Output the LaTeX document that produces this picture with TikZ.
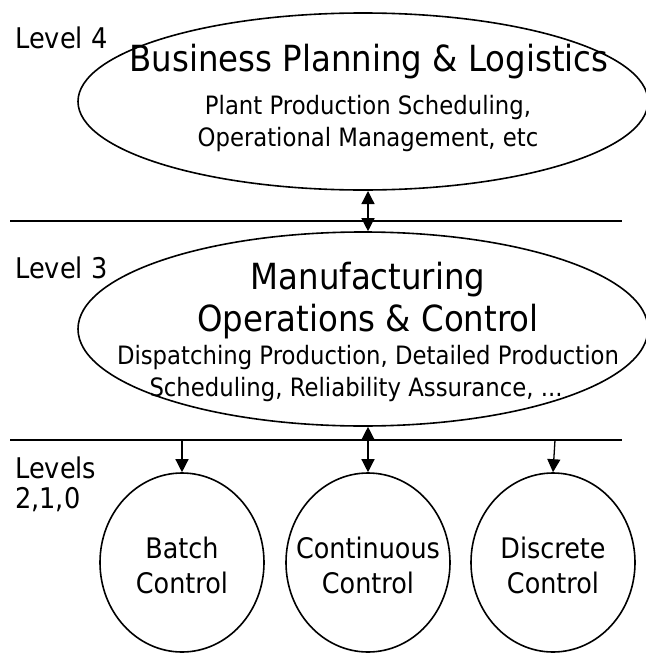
\documentclass[tikz,border=0pt]{standalone}
\usepackage{fontspec}
\setmainfont{DejaVu Sans}[FakeStretch=0.9]
\usetikzlibrary{positioning, arrows.meta, shapes.geometric}

\begin{document}
\begin{tikzpicture}[
    x=1pt, y=-1pt,
    every node/.style={inner sep=0pt},
    level/.style={anchor=west, font=\fontsize{28.5}{34}\selectfont},
    big/.style={font=\fontsize{36}{43}\selectfont},
    small/.style={font=\fontsize{25.3}{30}\selectfont},
    mid/.style={font=\fontsize{28.3}{35}\selectfont},
    oval/.style={draw, ellipse, line width=1.6pt, minimum width=570pt},
    ctrl/.style={draw, ellipse, line width=1.6pt, minimum width=164pt, minimum height=179pt},
    arrow/.style={-{Triangle[length=13pt, width=13pt]}, line width=1.3pt},
    both/.style={{Triangle[length=13pt, width=13pt]}-{Triangle[length=13pt, width=13pt]}, line width=1.3pt},
    bus/.style={line width=1.3pt}
]
\useasboundingbox (0,0) rectangle (645,653);

% Level 4
\node[oval, minimum height=177pt] (bpl) at (363,101.5) {};
\node[big]   (bpltitle) at (369,62)  {Business Planning \& Logistics};
\node[small] (bplsub1)  at (368,108) {Plant Production Scheduling,};
\node[small] (bplsub2)  at (368,140) {Operational Management, etc};

% Level 3
\node[oval, minimum height=194pt] (moc) at (363,329) {};
\node[big]   (moctitle1) at (368,280) {Manufacturing};
\node[big]   (moctitle2) at (368,322) {Operations \& Control};
\node[small] (mocsub1)   at (368,358) {Dispatching Production, Detailed Production};
\node[small] (mocsub2)   at (356,390) {Scheduling, Reliability Assurance, ...};

% Levels 2,1,0
\node[ctrl] (batch) at (182,562.5) {};
\node[ctrl] (cont)  at (368,562.5) {};
\node[ctrl] (disc)  at (553,562.5) {};
\node[mid, align=center] (batchtxt) at (182,565) {Batch\\Control};
\node[mid, align=center] (conttxt)  at (368,565) {Continuous\\Control};
\node[mid, align=center] (disctxt)  at (553,565) {Discrete\\Control};

% Level labels
\node[level] (lv4)  at (15,38)  {Level 4};
\node[level] (lv3)  at (15,268) {Level 3};
\node[level] (lv2)  at (15,468) {Levels};
\node[level] (lv2b) at (15,500) {2,1,0};

% Boundaries
\coordinate (busA1) at (10,221);
\coordinate (busA2) at (622,221);
\coordinate (busB1) at (10,440);
\coordinate (busB2) at (622,440);
\draw[bus] (busA1) -- (busA2);
\draw[bus] (busB1) -- (busB2);

% Arrows
\coordinate (top) at (368,191);
\coordinate (discin) at (555,440);
\draw[both]  (top) -- (top |- moc.north);
\draw[both]  (cont.north |- moc.south) -- (cont.north);
\draw[arrow] (batch.north |- busB1) -- (batch.north);
\draw[arrow] (discin) -- (disc.north);

\end{tikzpicture}
\end{document}
